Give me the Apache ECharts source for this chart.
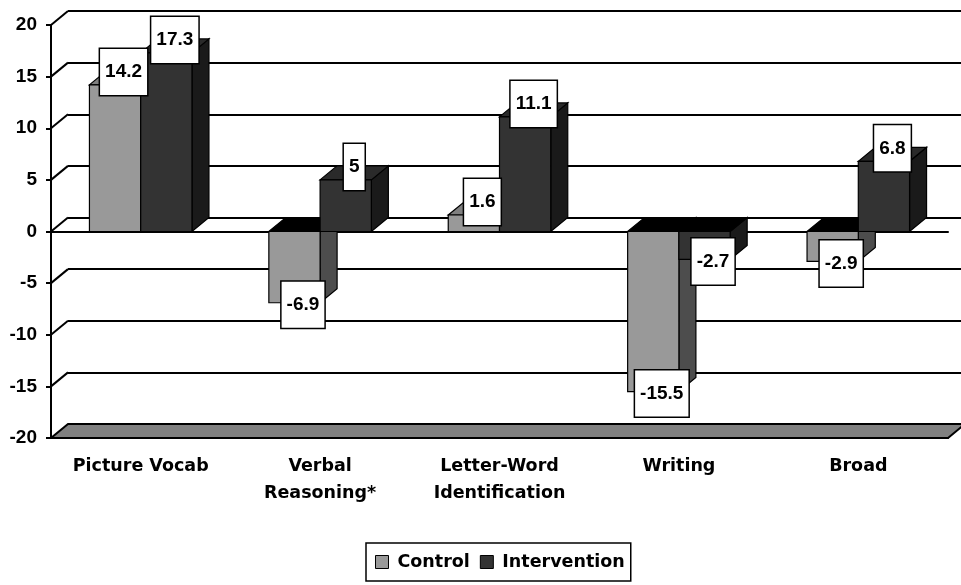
<!DOCTYPE html>
<html>
<head>
<meta charset="utf-8">
<script src="https://cdn.jsdelivr.net/npm/echarts@6/dist/echarts.min.js"></script>
<style>
  html, body { margin: 0; padding: 0; background: #fff; }
  #chart { width: 961px; height: 585px; }
</style>
</head>
<body>
<div id="chart"></div>
<script>
  // data
  var categories = ['Picture Vocab', 'Verbal\nReasoning*', 'Letter-Word\nIdentification', 'Writing', 'Broad'];
  var control = [14.2, -6.9, 1.6, -15.5, -2.9];
  var intervention = [17.3, 5, 11.1, -2.7, 6.8];
  var yTicks = [-20, -15, -10, -5, 0, 5, 10, 15, 20];

  // fake 3d depth (back wall is shifted by this)
  var DX = 17, DY = -14;
  var shades = [
    { front: '#999999', top: '#808080', side: '#4d4d4d' },
    { front: '#333333', top: '#2a2a2a', side: '#1a1a1a' }
  ];
  var numFamily = 'Liberation Sans, Arial, sans-serif';
  var labelFont = 'bold 19px ' + numFamily;

  function barGeom(api, k) {
    var cat = api.value(0), val = api.value(1);
    var w = api.size([1, 0])[0] / 3.5;
    var base = api.coord([cat, 0]);
    var end = api.coord([cat, val]);
    var x0 = base[0] - w + k * w;
    return { val: val, w: w, x0: x0, end: end,
      yT: Math.min(base[1], end[1]), yB: Math.max(base[1], end[1]) };
  }

  function barRender(k) {
    var c = shades[k];
    return function (params, api) {
      var g = barGeom(api, k);
      var x0 = g.x0, w = g.w, yT = g.yT, yB = g.yB;
      var st = { stroke: '#000', lineWidth: 1.2 };
      return {
        type: 'group',
        children: [
          { type: 'polygon',
            shape: { points: [[x0 + w, yT], [x0 + w + DX, yT + DY], [x0 + w + DX, yB + DY], [x0 + w, yB]] },
            style: Object.assign({ fill: c.side }, st) },
          { type: 'polygon',
            shape: { points: [[x0, yT], [x0 + w, yT], [x0 + w + DX, yT + DY], [x0 + DX, yT + DY]] },
            style: Object.assign({ fill: g.val >= 0 ? c.top : '#000' }, st) },
          { type: 'rect',
            shape: { x: x0, y: yT, width: w, height: yB - yT },
            style: Object.assign({ fill: c.front }, st) }
        ]
      };
    };
  }

  function labelRender(params, api) {
    var k = api.value(2);
    var g = barGeom(api, k);
    var cx = g.x0 + g.w / 2 + DX / 2;
    var cy = g.val >= 0 ? g.end[1] - 13 : g.end[1] + 2;
    return {
      type: 'text',
      x: cx, y: cy,
      style: {
        text: String(g.val),
        font: labelFont,
        fill: '#000',
        align: 'center',
        verticalAlign: 'middle',
        lineHeight: 20,
        backgroundColor: '#fff',
        borderColor: '#000',
        borderWidth: 1.5,
        padding: [13, 5, 13, 5]
      }
    };
  }

  // side wall diagonals + grey floor at the bottom
  function wallRender(params, api) {
    var cs = params.coordSys;
    var v = api.value(1);
    var y = api.coord([0, v])[1];
    var kids = [];
    if (v === yTicks[0]) {
      kids.push({ type: 'polygon',
        shape: { points: [[cs.x, y], [cs.x + cs.width, y], [cs.x + cs.width + DX, y + DY], [cs.x + DX, y + DY]] },
        style: { fill: '#808080', stroke: '#000', lineWidth: 2 } });
    } else {
      kids.push({ type: 'line',
        shape: { x1: cs.x, y1: y, x2: cs.x + DX, y2: y + DY },
        style: { stroke: '#000', lineWidth: 2 } });
    }
    return { type: 'group', children: kids };
  }

  var labelData = [];
  control.forEach(function (v, i) { labelData.push([i, v, 0]); });
  intervention.forEach(function (v, i) { labelData.push([i, v, 1]); });

  var chart = echarts.init(document.getElementById('chart'));
  var axisTxt = { fontFamily: numFamily, fontWeight: 'bold', fontSize: 19, color: '#000' };
  var blackLine = { color: '#000', width: 2 };

  chart.setOption({
    animation: false,
    backgroundColor: '#fff',
    grid: [
      { left: 51, right: 13, top: 25, bottom: 147 },
      { left: 51 + DX, right: 13 - DX, top: 25 + DY, bottom: 147 - DY }
    ],
    legend: {
      data: [
        { name: 'Control', itemStyle: { color: '#999999', borderColor: '#000', borderWidth: 1 } },
        { name: 'Intervention', itemStyle: { color: '#333333', borderColor: '#000', borderWidth: 1 } }
      ],
      left: 366, top: 543,
      icon: 'rect', itemWidth: 13, itemHeight: 13, itemGap: 10,
      borderColor: '#000', borderWidth: 1.5,
      padding: [10, 6, 10, 9],
      textStyle: { fontFamily: 'DejaVu Sans, sans-serif', fontWeight: 'bold', fontSize: 17.5, color: '#000',
        padding: [0, 0, 0, 4] }
    },
    xAxis: [
      { gridIndex: 0, type: 'category', data: categories, position: 'bottom',
        axisLine: { onZero: false, lineStyle: blackLine },
        axisTick: { length: 5, lineStyle: blackLine },
        axisLabel: { interval: 0, margin: 15, fontFamily: 'DejaVu Sans, sans-serif', fontWeight: 'bold',
          fontSize: 17.5, lineHeight: 27, color: '#000' } },
      { gridIndex: 0, type: 'category', data: categories, position: 'top',
        axisLine: { onZero: true, lineStyle: blackLine },
        axisTick: { inside: true, length: 5, lineStyle: blackLine },
        axisLabel: { show: false } },
      { gridIndex: 1, type: 'category', data: categories, show: false }
    ],
    yAxis: [
      { gridIndex: 0, type: 'value', min: -20, max: 20, interval: 5,
        axisLine: { show: true, lineStyle: blackLine },
        axisTick: { show: true, length: 5, lineStyle: blackLine },
        axisLabel: Object.assign({ margin: 14 }, axisTxt),
        splitLine: { show: false } },
      { gridIndex: 1, type: 'value', min: -20, max: 20, interval: 5,
        axisLine: { show: false }, axisTick: { show: false }, axisLabel: { show: false },
        splitLine: { show: true, lineStyle: blackLine } }
    ],
    series: [
      { name: 'walls', type: 'custom', xAxisIndex: 0, yAxisIndex: 0, z: 1, silent: true,
        data: yTicks.map(function (v) { return [0, v]; }),
        renderItem: wallRender },
      { name: 'Control', type: 'custom', xAxisIndex: 0, yAxisIndex: 0, z: 2,
        itemStyle: { color: '#999999' },
        data: control.map(function (v, i) { return [i, v]; }),
        encode: { x: 0, y: 1 },
        renderItem: barRender(0) },
      { name: 'Intervention', type: 'custom', xAxisIndex: 0, yAxisIndex: 0, z: 2,
        itemStyle: { color: '#333333' },
        data: intervention.map(function (v, i) { return [i, v]; }),
        encode: { x: 0, y: 1 },
        renderItem: barRender(1) },
      { name: 'values', type: 'custom', xAxisIndex: 0, yAxisIndex: 0, z: 3, silent: true,
        data: labelData,
        encode: { x: 0, y: 1 },
        renderItem: labelRender }
    ]
  });
</script>
</body>
</html>
